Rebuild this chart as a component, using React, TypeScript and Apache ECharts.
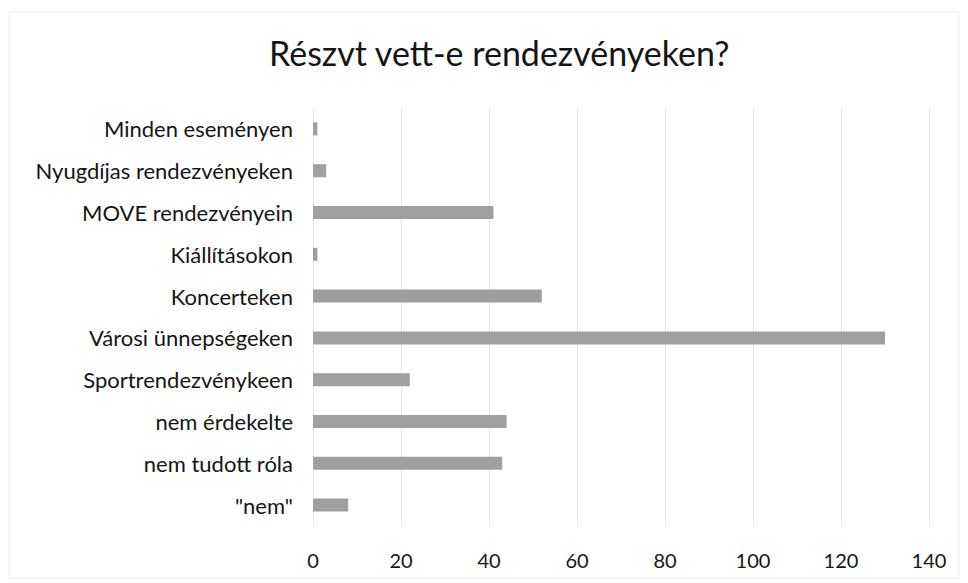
import React, { useEffect, useRef } from "react";
import * as echarts from "echarts";

const titleText = "Részvt vett-e rendezvényeken?";
const categories = [
  "\"nem\"",
  "nem tudott róla",
  "nem érdekelte",
  "Sportrendezvénykeen",
  "Városi ünnepségeken",
  "Koncerteken",
  "Kiállításokon",
  "MOVE rendezvényein",
  "Nyugdíjas rendezvényeken",
  "Minden eseményen",
];
const values = [8, 43, 44, 22, 130, 52, 1, 41, 3, 1];
const xMin = 0;
const xMax = 140;
const xStep = 20;

const FONT = "Lato, 'Open Sans', sans-serif";

export default function App() {
  const ref = useRef<HTMLDivElement>(null);
  useEffect(() => {
    if (!ref.current) return;
    const chart = echarts.init(ref.current, null, { renderer: "svg" });
    chart.setOption({
      animation: false,
      backgroundColor: "#ffffff",
      title: {
        text: titleText,
        left: 264,
        top: 30,
        textStyle: { fontFamily: FONT, fontSize: 34, fontWeight: "normal", color: "#151515" },
      },
      graphic: [
        {
          type: "rect",
          shape: { x: 9, y: 12, width: 950, height: 566 },
          style: { fill: "none", stroke: "#efefef", lineWidth: 1 },
          silent: true,
        },
      ],
      grid: { left: 313, right: 39, top: 108, bottom: 57, containLabel: false },
      xAxis: {
        type: "value",
        min: xMin,
        max: xMax,
        interval: xStep,
        axisLine: { show: false },
        axisTick: { show: false },
        splitLine: { show: true, lineStyle: { color: "#e6e6e6", width: 1 } },
        axisLabel: { fontFamily: FONT, fontSize: 20, color: "#151515", margin: 24 },
      },
      yAxis: {
        type: "category",
        data: categories,
        axisLine: { show: true, lineStyle: { color: "#e6e6e6" } },
        axisTick: { show: false },
        axisLabel: { fontFamily: FONT, fontSize: 22, color: "#151515", margin: 20 },
      },
      series: [
        {
          type: "bar",
          data: values,
          barWidth: 13,
          itemStyle: { color: "#9f9f9f" },
        },
      ],
    });
    return () => chart.dispose();
  }, []);
  return (
    <div
      ref={ref}
      style={{ position: "fixed", left: 0, top: 0, width: 968, height: 583 }}
    />
  );
}
